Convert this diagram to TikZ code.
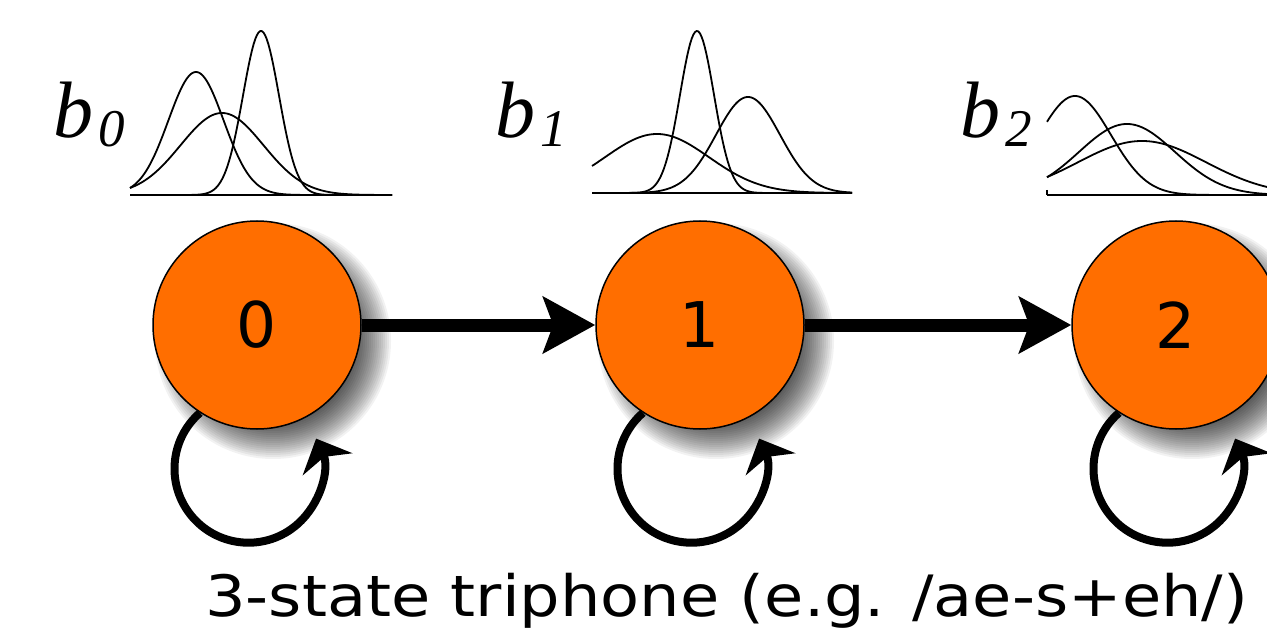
\documentclass[tikz,border=0pt]{standalone}
\usepackage{fontspec}
\setmainfont{DejaVu Sans}
\newfontfamily\tms{Liberation Serif}
\usetikzlibrary{arrows.meta,backgrounds,calc}
\definecolor{stateorange}{RGB}{255,110,0}
\newcommand\gaussplot[6]{\draw[curve] plot[domain=#1:#2,samples=160] (\x,{#3-#4*exp(-min(0.5*((\x-#5)/#6)*((\x-#5)/#6),18))});}
\begin{document}
\begin{tikzpicture}[x=1pt,y=-1pt,
  state/.style={circle, draw=black, line width=1.5pt, fill=stateorange, minimum size=208pt, inner sep=0pt, font=\fontsize{63}{63}\selectfont},
  trans/.style={line width=13pt, -{Stealth[length=52pt,width=56pt,inset=10pt]}},
  selfloop/.style={line width=8pt, -{Stealth[length=28pt,width=54pt,inset=8pt]}},
  axisline/.style={line width=1.8pt},
  curve/.style={line width=1.8pt},
  blabel/.style={anchor=base west, inner sep=0pt, font=\tms\itshape\fontsize{80}{80}\selectfont},
  subfont/.style={font=\tms\itshape\fontsize{53}{53}\selectfont},
  caption/.style={anchor=base west, inner sep=0pt, font=\fontsize{57}{57}\selectfont},
]
\useasboundingbox (0,0) rectangle (1267,631);
\clip (0,0) rectangle (1267,631);

% states
\node[state] (c0) at (257,325) {0};
\node[state] (c1) at (700,325) {1};
\node[state] (c2) at (1176,325) {2};

% shadows
\begin{pgfonlayer}{background}
\fill[white] (0,0) rectangle (1267,631);
\foreach \n in {c0,c1,c2}{
  \foreach \r in {80,82,...,118}
    \fill[black,opacity=0.05] ($(\n.center)+(16,16)$) circle (\r);
}
\end{pgfonlayer}

% transitions
\draw[trans] (c0) -- (c1);
\draw[trans] (c1) -- (c2);

% self loops
\foreach \n in {c0,c1,c2}{
  \draw[selfloop] (\n.237) arc[start angle=229, end angle=-24, radius=74];
}

% output distributions
\draw[axisline] (130,195) -- (392,195);
\gaussplot{130}{392}{195}{123}{196}{27.6}
\gaussplot{130}{392}{195}{82}{222}{41.5}
\gaussplot{130}{392}{195}{164}{261}{18}

\draw[axisline] (592,193) -- (852,193);
\gaussplot{592}{852}{193}{59}{657}{52}
\gaussplot{592}{852}{193}{162}{697}{17}
\gaussplot{592}{852}{193}{96}{748}{32}

\draw[axisline] (1047,195) -- (1290,195);
\draw[axisline] (1047,190) -- (1047,195);
\gaussplot{1047}{1290}{195}{99}{1075}{36}
\gaussplot{1047}{1290}{195}{71}{1127}{48}
\gaussplot{1047}{1290}{195}{54}{1142}{64}

% labels
\node[blabel] (lb0) at (53,138) {b\kern5pt\raisebox{-9pt}{\tikz[baseline]\node[subfont,inner sep=0pt,anchor=base]{0};}};
\node[blabel] (lb1) at (495,138) {b\kern5pt\raisebox{-9pt}{\tikz[baseline]\node[subfont,inner sep=0pt,anchor=base]{1};}};
\node[blabel] (lb2) at (960,138) {b\kern5pt\raisebox{-9pt}{\tikz[baseline]\node[subfont,inner sep=0pt,anchor=base]{2};}};

\node[caption] (cap) at (205,616) {\scalebox{1.12}[1]{3-state triphone (e.g. /ae-s+eh/)}};
\end{tikzpicture}
\end{document}
